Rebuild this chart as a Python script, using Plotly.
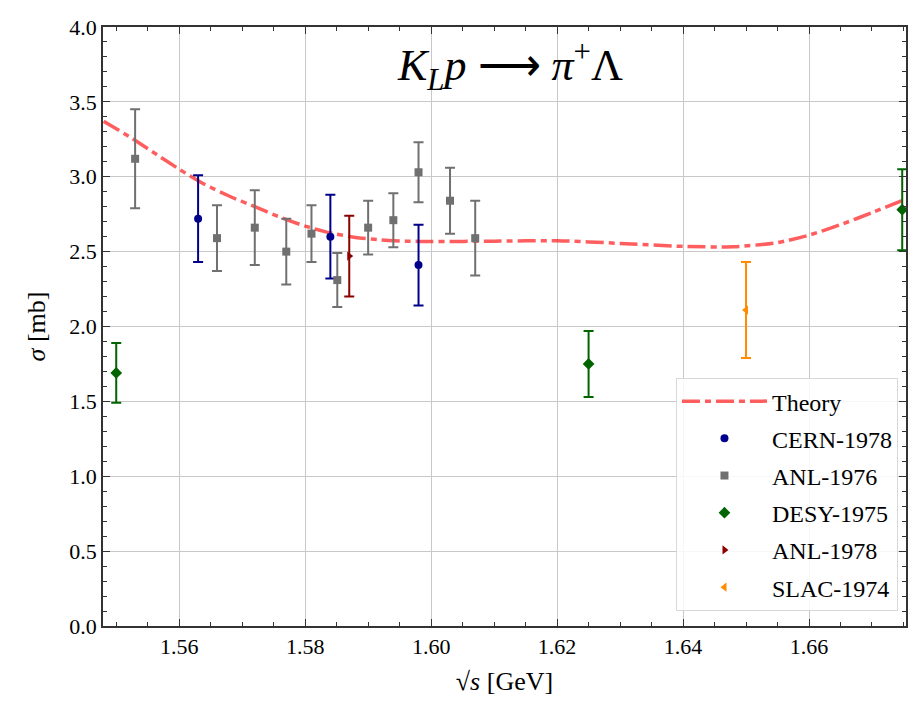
import plotly.graph_objects as go

# Theory curve
theory_x = [1.548, 1.552, 1.556, 1.560, 1.564, 1.568, 1.572, 1.576, 1.580, 1.584,
            1.588, 1.592, 1.596, 1.600, 1.610, 1.620, 1.630, 1.640, 1.648, 1.655,
            1.660, 1.665, 1.670, 1.675]
theory_y = [3.37, 3.27, 3.16, 3.05, 2.95, 2.87, 2.80, 2.73, 2.67, 2.625,
            2.595, 2.578, 2.570, 2.567, 2.570, 2.573, 2.555, 2.535, 2.532, 2.56,
            2.61, 2.68, 2.76, 2.845]

cern_x = [1.563, 1.584, 1.598]
cern_y = [2.72, 2.60, 2.41]
cern_e = [0.29, 0.28, 0.27]

anl76_x = [1.553, 1.566, 1.572, 1.577, 1.581, 1.5851, 1.590, 1.594, 1.598, 1.603, 1.607]
anl76_y = [3.12, 2.59, 2.66, 2.50, 2.62, 2.31, 2.66, 2.71, 3.03, 2.84, 2.59]
anl76_e = [0.33, 0.22, 0.25, 0.22, 0.19, 0.18, 0.18, 0.18, 0.20, 0.22, 0.25]

desy_x = [1.550, 1.625, 1.6748]
desy_y = [1.69, 1.75, 2.78]
desy_e = [0.20, 0.22, 0.27]

anl78_x = [1.587]
anl78_y = [2.47]
anl78_e = [0.27]

slac_x = [1.650]
slac_y = [2.11]
slac_e = [0.32]

x_ticks = [1.56, 1.58, 1.60, 1.62, 1.64, 1.66]
y_ticks = [0.0, 0.5, 1.0, 1.5, 2.0, 2.5, 3.0, 3.5, 4.0]

FONT = "Liberation Serif"

fig = go.Figure()
fig.add_trace(go.Scatter(x=theory_x, y=theory_y, mode="lines", name="Theory", legendgroup="g0",
                         line=dict(color="rgba(255,40,40,0.75)", width=3.5,
                                   dash="18px,5px,6px,5px", shape="spline", smoothing=0.6)))


def add_data(x, y, e, name, color, symbol, size, grp):
    fig.add_trace(go.Scatter(
        x=x, y=y, mode="markers", name=name, legendgroup=grp,
        marker=dict(color=color, symbol=symbol, size=size),
        error_y=dict(type="data", array=e, visible=True, color=color, thickness=2, width=5),
    ))


add_data(cern_x, cern_y, cern_e, "CERN-1978", "#00008b", "circle", 8, "g1")
add_data(anl76_x, anl76_y, anl76_e, "ANL-1976", "#707070", "square", 8, "g2")
add_data(desy_x, desy_y, desy_e, "DESY-1975", "#006400", "diamond", 9, "g3")
add_data(anl78_x, anl78_y, anl78_e, "ANL-1978", "#8b0000", "triangle-right", 8, "g4")
add_data(slac_x, slac_y, slac_e, "SLAC-1974", "#ff8c00", "triangle-left", 8, "g5")

axis_common = dict(
    showgrid=True, gridcolor="#c8c8c8", gridwidth=1,
    showline=True, linecolor="#333333", linewidth=1.5, mirror="ticks",
    ticks="inside", ticklen=7, tickwidth=1.2, tickcolor="#333333",
    zeroline=False,
    tickfont=dict(family=FONT, size=22, color="black"),
)

fig.update_xaxes(
    range=[1.5479, 1.6754], tickvals=x_ticks, ticktext=[f"{v:.2f}" for v in x_ticks],
    minor=dict(ticks="inside", ticklen=4, dtick=0.005, tick0=1.56, tickcolor="#333333", showgrid=False),
    title=dict(text="√<i>s</i> [GeV]", font=dict(family=FONT, size=26, color="black"), standoff=14),
    **axis_common)
fig.update_yaxes(
    range=[0, 4.0], tickvals=y_ticks, ticktext=[f"{v:.1f}" for v in y_ticks],
    minor=dict(ticks="inside", ticklen=4, dtick=0.1, tick0=0, tickcolor="#333333", showgrid=False),
    title=dict(text="<i>σ</i> [mb]", font=dict(family=FONT, size=26, color="black"), standoff=16),
    **axis_common)

fig.add_annotation(
    text="<i>K<sub>L</sub>p</i> ⟶ <i>π</i><sup>+</sup>Λ",
    xref="paper", yref="paper", x=0.507, y=0.935, xanchor="center", yanchor="middle",
    showarrow=False, font=dict(family=FONT, size=44, color="black"))

fig.update_layout(
    width=922, height=713,
    margin=dict(l=103, r=16, t=27, b=87),
    plot_bgcolor="white", paper_bgcolor="white",
    font=dict(family=FONT, color="black"),
    legend=dict(x=0.99, y=0.025, xanchor="right", yanchor="bottom",
                bgcolor="rgba(255,255,255,0.85)", bordercolor="#d8d8d8", borderwidth=1,
                font=dict(family=FONT, size=24, color="black"), itemwidth=85,
                tracegroupgap=3),
    showlegend=True,
)

fig.write_html("out.html")
